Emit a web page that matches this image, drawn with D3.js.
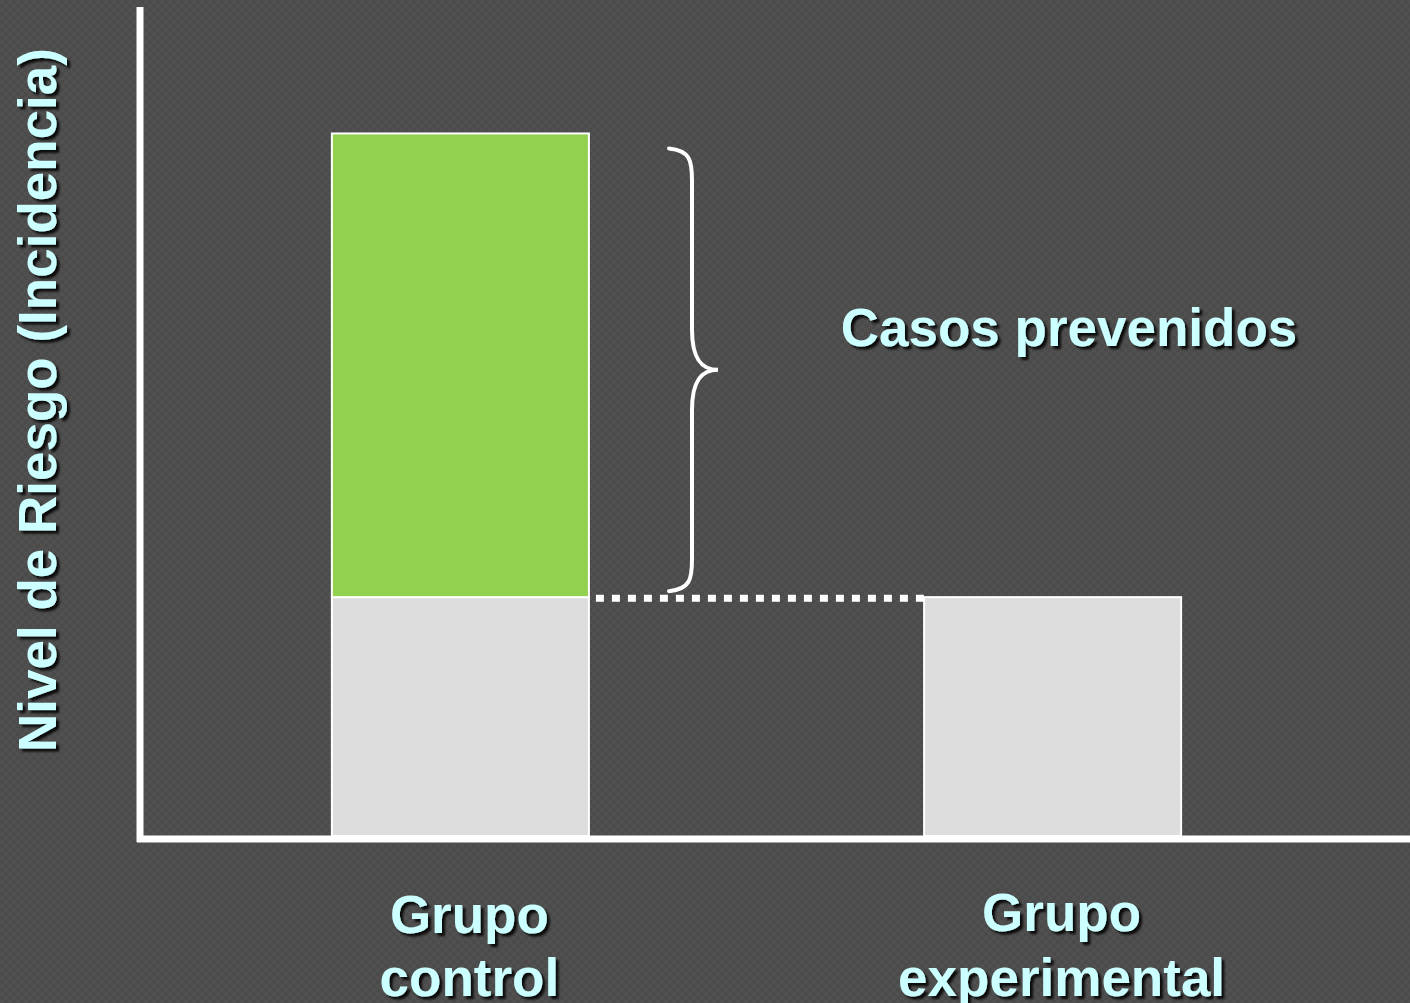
<!DOCTYPE html>
<html>
<head>
<meta charset="utf-8">
<script src="https://cdn.jsdelivr.net/npm/d3@7"></script>
<style>
  html, body { margin: 0; padding: 0; background: #4d4d4d; overflow: hidden; }
  svg { display: block; }
  text { font-family: Arial, "Liberation Sans", Helvetica, sans-serif; font-weight: bold; fill: #ccffff; }
</style>
</head>
<body>
<svg id="chart" width="1410" height="1003"></svg>
<script>
// Risk level (incidence) per group
const categories = ["Grupo control", "Grupo experimental"];
const labelLines = [["Grupo", "control"], ["Grupo", "experimental"]];
const riskValues = [100, 34];
const axisTitle = "Nivel de Riesgo (Incidencia)";
const braceLabel = "Casos prevenidos";

const W = 1410, H = 1003;
const svg = d3.select("#chart");

// background with fine checker texture
const defs = svg.append("defs");
const pat = defs.append("pattern").attr("id", "bgPat")
  .attr("width", 8).attr("height", 8).attr("patternUnits", "userSpaceOnUse");
pat.append("rect").attr("width", 8).attr("height", 8).attr("fill", "#4b4b4b");
pat.append("rect").attr("width", 4).attr("height", 4).attr("fill", "#505050");
pat.append("rect").attr("x", 4).attr("y", 4).attr("width", 4).attr("height", 4).attr("fill", "#505050");
svg.append("rect").attr("width", W).attr("height", H).attr("fill", "url(#bgPat)");

const shadow = defs.append("filter").attr("id", "txtShadow")
  .attr("x", "-10%").attr("y", "-10%").attr("width", "120%").attr("height", "130%");
shadow.append("feDropShadow").attr("dx", 3).attr("dy", 3).attr("stdDeviation", 1.2)
  .attr("flood-color", "#000").attr("flood-opacity", 0.85);

// scales
const x = d3.scaleBand().domain(categories).range([140, 1373])
  .paddingInner(0.566).paddingOuter(0.324);
const y = d3.scaleLinear().domain([0, 118]).range([836, 7]);

const baseline = riskValues[1];

// bars: lower part (shared risk level) in grey, excess risk of control in green
const g = svg.append("g");
g.selectAll("rect.base").data(categories).join("rect")
  .attr("class", "base")
  .attr("x", d => x(d))
  .attr("y", (d, i) => y(Math.min(riskValues[i], baseline)))
  .attr("width", x.bandwidth())
  .attr("height", (d, i) => y(0) - y(Math.min(riskValues[i], baseline)))
  .attr("fill", "#dddddd").attr("stroke", "#ffffff").attr("stroke-width", 2);

g.selectAll("rect.excess").data(categories.filter((d, i) => riskValues[i] > baseline)).join("rect")
  .attr("class", "excess")
  .attr("x", d => x(d))
  .attr("y", d => y(riskValues[categories.indexOf(d)]))
  .attr("width", x.bandwidth())
  .attr("height", d => y(baseline) - y(riskValues[categories.indexOf(d)]))
  .attr("fill", "#92d050").attr("stroke", "#ffffff").attr("stroke-width", 2);

// dotted reference line at the experimental level
svg.append("line")
  .attr("x1", x(categories[0]) + x.bandwidth() + 7)
  .attr("x2", x(categories[1]))
  .attr("y1", y(baseline) + 1).attr("y2", y(baseline) + 1)
  .attr("stroke", "#ffffff").attr("stroke-width", 7)
  .attr("stroke-dasharray", "8 8");

// axes
svg.append("line").attr("x1", 140).attr("x2", 140).attr("y1", y(118)).attr("y2", 842)
  .attr("stroke", "#ffffff").attr("stroke-width", 7);
svg.append("line").attr("x1", 137).attr("x2", W).attr("y1", 839).attr("y2", 839)
  .attr("stroke", "#ffffff").attr("stroke-width", 7);

// curly brace spanning the prevented cases
const bTop = y(riskValues[0]) + 15, bBot = y(baseline) - 6;
const bMid = (bTop + bBot) / 2;
const bx0 = 669, bx1 = 692, bTip = 718;
const brace = d3.path();
brace.moveTo(bx0, bTop);
brace.bezierCurveTo(bx1 - 2, bTop + 2, bx1, bTop + 12, bx1, bTop + 32);
brace.lineTo(bx1, bMid - 40);
brace.bezierCurveTo(bx1, bMid - 10, bx1 + 10, bMid, bTip, bMid);
brace.bezierCurveTo(bx1 + 10, bMid, bx1, bMid + 10, bx1, bMid + 40);
brace.lineTo(bx1, bBot - 32);
brace.bezierCurveTo(bx1, bBot - 12, bx1 - 2, bBot - 2, bx0, bBot);
svg.append("path").attr("d", brace.toString())
  .attr("fill", "none").attr("stroke", "#ffffff").attr("stroke-width", 4)
  .attr("stroke-linecap", "round");

// texts
const txt = svg.append("g").attr("filter", "url(#txtShadow)");
txt.append("text").attr("x", 1069).attr("y", 346)
  .attr("text-anchor", "middle").attr("font-size", 53).text(braceLabel);

txt.append("text")
  .attr("transform", "translate(56,400) rotate(-90)")
  .attr("text-anchor", "middle").attr("font-size", 53).text(axisTitle);

const lineY = [933, 996];
categories.forEach((c, i) => {
  const cx = x(c) + x.bandwidth() / 2 + 9;
  labelLines[i].forEach((ln, j) => {
    txt.append("text").attr("x", cx).attr("y", lineY[j] - (i === 1 && j === 0 ? 2 : 0))
      .attr("text-anchor", "middle").attr("font-size", 53).text(ln);
  });
});
</script>
</body>
</html>
